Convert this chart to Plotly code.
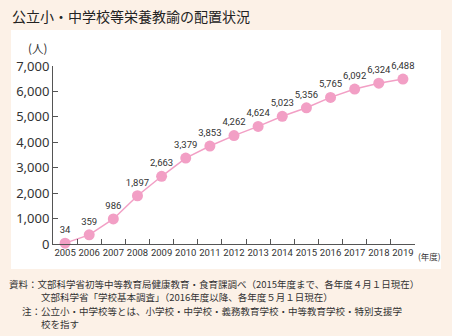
import plotly.graph_objects as go

years = ["2005", "2006", "2007", "2008", "2009", "2010", "2011", "2012",
         "2013", "2014", "2015", "2016", "2017", "2018", "2019"]
teachers = [34, 359, 986, 1897, 2663, 3379, 3853, 4262, 4624, 5023,
            5356, 5765, 6092, 6324, 6488]
labels = [f"{v:,}" for v in teachers]

title_text = "公立小・中学校等栄養教諭の配置状況"
note_lines = [
    "資料：文部科学省初等中等教育局健康教育・食育課調べ（2015年度まで、各年度４月１日現在）",
    "文部科学省「学校基本調査」（2016年度以降、各年度５月１日現在）",
    "注：公立小・中学校等とは、小学校・中学校・義務教育学校・中等教育学校・特別支援学",
    "校を指す",
]

W, H = 452, 336
L, R, T, B = 53, 37, 66, 92
PW, PH = W - L - R, H - T - B

def px(x):
    return (x - L) / PW

def py(y):
    return (H - B - y) / PH

PINK = "#f29fc5"
BG = "#fcf1e7"
TXT = "#333333"
CJK = "Noto Sans CJK JP"
NUM = "Roboto, sans-serif"

fig = go.Figure()
fig.add_trace(go.Scatter(
    x=years, y=teachers, mode="lines+markers+text",
    line=dict(color=PINK, width=1.5),
    marker=dict(color=PINK, size=11),
    text=labels, textposition="top center",
    textfont=dict(family=NUM, size=9.5, color=TXT),
    cliponaxis=False, hoverinfo="skip",
))

fig.update_layout(
    width=W, height=H,
    margin=dict(l=L, r=R, t=T, b=B),
    paper_bgcolor=BG, plot_bgcolor="white",
    showlegend=False,
    font=dict(family=CJK, color=TXT),
    xaxis=dict(
        type="category", range=[-0.5, 14.5],
        showline=True, linecolor="#555", linewidth=1,
        ticks="inside", ticklen=5, tickcolor="#555", tickson="boundaries",
        showgrid=False, zeroline=False, tickangle=0,
        tickfont=dict(family=NUM, size=9.5, color=TXT),
    ),
    yaxis=dict(
        range=[0, 7000], tickvals=[0, 1000, 2000, 3000, 4000, 5000, 6000, 7000],
        ticktext=["0", "1,000", "2,000", "3,000", "4,000", "5,000", "6,000", "7,000"],
        showline=True, linecolor="#555", linewidth=1,
        ticks="inside", ticklen=5, tickcolor="#555",
        showgrid=False, zeroline=False,
        tickfont=dict(family="Noto Sans", size=13, color=TXT),
    ),
    shapes=[dict(type="rect", xref="paper", yref="paper",
                 x0=px(11), x1=px(441), y0=py(30), y1=py(269),
                 fillcolor="white", line=dict(width=0), layer="below")],
)

ann = []
ann.append(dict(text=title_text, x=px(10), y=py(16), xanchor="left", yanchor="middle",
                font=dict(family=CJK, size=14, color="#222")))
ann.append(dict(text="(人)", x=px(26), y=py(48), xanchor="left", yanchor="middle",
                font=dict(family=CJK, size=11.5, color=TXT)))
ann.append(dict(text="(年度)", x=px(416), y=py(256), xanchor="left", yanchor="middle",
                font=dict(family=CJK, size=8.5, color=TXT)))
note_pos = [(7, 283.5), (38.5, 297), (20, 310.5), (38.5, 324)]
for t, (x, y) in zip(note_lines, note_pos):
    ann.append(dict(text=t, x=px(x), y=py(y), xanchor="left", yanchor="middle",
                    font=dict(family=CJK, size=9.5, color=TXT)))
for a in ann:
    a.update(xref="paper", yref="paper", showarrow=False)
fig.update_layout(annotations=ann)

fig.write_html("out.html")
